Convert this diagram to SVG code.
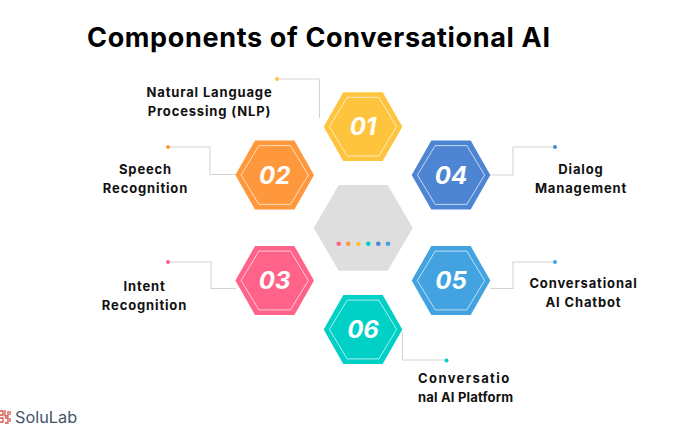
<svg xmlns="http://www.w3.org/2000/svg" width="700" height="441" viewBox="0 0 700 441">
<style>
text{font-family:Inter,"Liberation Sans",sans-serif}
.t{font-size:27px;font-weight:700;fill:#000}
.l{font-size:13px;font-weight:700;fill:#111;text-anchor:middle;letter-spacing:.85px}
.n{font-size:24px;font-weight:700;font-style:italic;fill:#fff;text-anchor:middle}
.in{fill:none;stroke:#fff;stroke-opacity:.75;stroke-width:.9}
.c{fill:none;stroke:#d3d3d3;stroke-width:1.1}
</style>
<defs>
<polygon id="o" points="-39.3,0 -19.7,-34.4 19.7,-34.4 39.3,0 19.7,34.4 -19.7,34.4"/>
<polygon id="i" points="-33.6,0 -15.8,-29.4 15.8,-29.4 33.6,0 15.8,29.4 -15.8,29.4"/>
</defs>
<rect width="700" height="441" fill="#fff"/>
<text class="t" x="87" y="47" textLength="463" lengthAdjust="spacing">Components of Conversational AI</text>
<g id="connectors">
<path class="c" d="M277 79H319.500V118"/>
<path class="c" d="M168 147H210V174.500H236"/>
<path class="c" d="M555 147H513V175H490"/>
<path class="c" d="M168 262H211V288.500H236"/>
<path class="c" d="M555 262H513V288.500H490"/>
<path class="c" d="M402.500 332V360H446"/>
<circle cx="277" cy="79" r="2" fill="#ffc43d"/>
<circle cx="168" cy="147" r="2" fill="#ff983d"/>
<circle cx="555" cy="147" r="2" fill="#4d85d3"/>
<circle cx="168" cy="262" r="2" fill="#ff6389"/>
<circle cx="555" cy="262" r="2" fill="#42a3e0"/>
<circle cx="446.500" cy="360.500" r="2" fill="#00d0c6"/>
</g>
<g id="center">
<polygon points="313.700,228 338.700,185 387.700,185 412.700,228 387.700,270.700 338.700,270.700" fill="#dedede"/>
<circle cx="338.700" cy="243.700" r="2.300" fill="#ff6389"/>
<circle cx="348.300" cy="243.700" r="2.300" fill="#ff983d"/>
<circle cx="358.300" cy="243.700" r="2.300" fill="#ffc43d"/>
<circle cx="368.300" cy="243.700" r="2.300" fill="#00d0c6"/>
<circle cx="378.300" cy="243.700" r="2.300" fill="#4d85d3"/>
<circle cx="388" cy="243.700" r="2.300" fill="#42a3e0"/>
</g>
<g id="node-01" transform="translate(363 126.700)"><use href="#o" fill="#ffc43d"/><use href="#i" class="in"/><text class="n" y="8.500">01</text></g>
<g id="node-02" transform="translate(274.700 175)"><use href="#o" fill="#ff983d"/><use href="#i" class="in"/><text class="n" y="8.500">02</text></g>
<g id="node-03" transform="translate(274.700 280.500)"><use href="#o" fill="#ff6389"/><use href="#i" class="in"/><text class="n" y="8.500">03</text></g>
<g id="node-04" transform="translate(451 175)"><use href="#o" fill="#4d85d3"/><use href="#i" class="in"/><text class="n" y="8.500">04</text></g>
<g id="node-05" transform="translate(451 280.500)"><use href="#o" fill="#42a3e0"/><use href="#i" class="in"/><text class="n" y="8.500">05</text></g>
<g id="node-06" transform="translate(363 329.500)"><use href="#o" fill="#00d0c6"/><use href="#i" class="in"/><text class="n" y="8.500">06</text></g>
<g id="label-01"><text class="l" x="209.500" y="97">Natural Language</text><text class="l" x="209.500" y="116">Processing (NLP)</text></g>
<g id="label-02"><text class="l" x="145.500" y="174">Speech</text><text class="l" x="145.500" y="193">Recognition</text></g>
<g id="label-03"><text class="l" x="144.500" y="291">Intent</text><text class="l" x="144.500" y="310">Recognition</text></g>
<g id="label-04"><text class="l" x="581" y="174">Dialog</text><text class="l" x="581" y="193">Management</text></g>
<g id="label-05"><text class="l" x="583.500" y="288">Conversational</text><text class="l" x="583.500" y="307">AI Chatbot</text></g>
<g id="label-06"><text class="l" style="text-anchor:start" x="418" y="383" textLength="92" lengthAdjust="spacing">Conversatio</text><text class="l" style="text-anchor:start" x="418" y="402" textLength="96" lengthAdjust="spacing">nal AI Platform</text></g>
<g id="logo">
<path fill="none" stroke="#d9534a" stroke-width="1.300" d="M0 411H3V415H0M0 418H3V422H0M5 410V416H8V411M5 418H8V423H5M10 411V415M10 418V422"/>
<text x="15" y="423" font-size="16.300" fill="#44546a">SoluLab</text>
</g>
</svg>
